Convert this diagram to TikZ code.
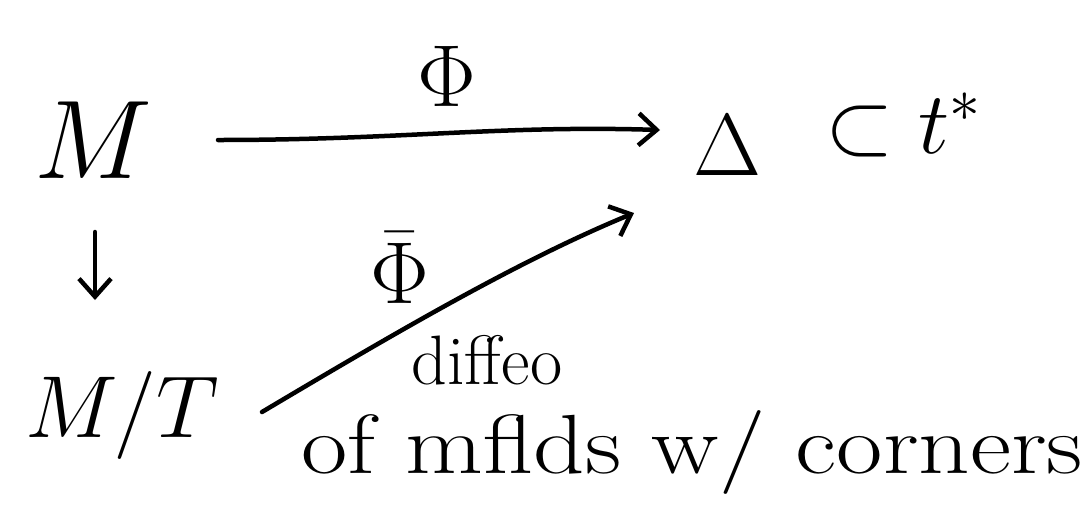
\RequirePackage{fix-cm}
\documentclass[tikz,border=0pt]{standalone}
\usetikzlibrary{arrows.meta}
\begin{document}
\begin{tikzpicture}[x=1pt,y=-1pt,
  conn/.style={line width=4.5pt,line cap=round,-{Straight Barb[length=18pt,width=32pt,line width=4.5pt]}},
  big/.style={inner sep=0pt,font=\fontsize{112}{112}\selectfont},
  mid/.style={inner sep=0pt,font=\fontsize{88}{88}\selectfont},
  txt/.style={inner sep=0pt,font=\fontsize{70}{70}\selectfont},
  txtb/.style={inner sep=0pt,font=\fontsize{84}{84}\selectfont}]
\useasboundingbox (0,0) rectangle (1092,507);
\node[big] (M) at (93,140) {$M$};
\node[mid] (D) at (727,145) {$\Delta$};
\node[mid,anchor=west] (sub) at (825,125) {$\subset t^*$};
\node[mid] (MT) at (122,415) {$M/T$};
\node[txt] (diffeo) at (487,360) {diffeo};
\node[txtb] (corners) at (692,452) {\scalebox{1.2}[1]{of mflds w/ corners}};
\coordinate (a1) at (218,140);
\coordinate (a2) at (660,130);
\draw[conn] (a1) .. controls (400,140) and (500,125) .. (a2)
  node[pos=0.5,above=24pt,mid] (phi) {$\Phi$};
\coordinate (b1) at (262,412);
\coordinate (b2) at (634,213);
\draw[conn] (b1) .. controls (400,330) and (520,260) .. (b2);
\node[mid] (phibar) at (400,268) {$\bar\Phi$};
\coordinate (c1) at (95,232);
\coordinate (c2) at (95,300);
\draw[conn] (c1) -- (c2);
\end{tikzpicture}
\end{document}
